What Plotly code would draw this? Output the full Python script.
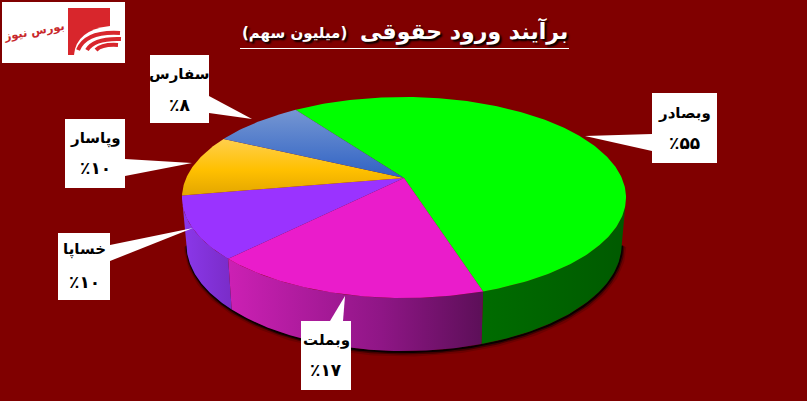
import numpy as np
import plotly.graph_objects as go

# ---- data ----
categories = ["وبصادر", "وبملت", "خساپا", "وپاسار", "سفارس"]
values = [55, 17, 10, 10, 8]
value_labels = ["٪۵۵", "٪۱۷", "٪۱۰", "٪۱۰", "٪۸"]
title_main = "برآیند ورود حقوقی"
title_unit = "(میلیون سهم)"
logo_text = "بورس نیوز"

# ---- styles ----
BG = "#800000"
top_fill = [
    [[0, "#00ff00"], [1, "#00ff00"]],
    [[0, "#ea1ccb"], [1, "#ea1ccb"]],
    [[0, "#9a33ff"], [1, "#9a33ff"]],
    [[0, "#e3a600"], [0.45, "#ffc000"], [1, "#ffcf4d"]],
    [[0, "#2f62c4"], [1, "#7596d2"]],
]
wall_fill = [
    [[0, "#006c00"], [1, "#005a00"]],
    [[0, "#cc20b4"], [0.6, "#8f1686"], [1, "#5c0f58"]],
    [[0, "#8b38ea"], [1, "#7a2cc8"]],
]
# callout boxes: rectangle and pointer triangle
boxes = [
    dict(b=(652, 717, 93, 163), tri=((585, 136), (652, 134), (652, 151)), dy=(20, 50)),
    dict(b=(301, 351, 321, 390), tri=((345, 296), (330, 321), (343, 321)), dy=(19, 49)),
    dict(b=(58, 110, 233, 300), tri=((193, 228), (110, 245), (110, 261)), dy=(16, 49)),
    dict(b=(65, 125, 119, 188), tri=((192, 163), (125, 159), (125, 176)), dy=(19, 49)),
    dict(b=(150, 209, 55, 123), tri=((252, 119), (209, 96), (209, 113)), dy=(19, 50)),
]

# ---- pie geometry: a tilted disc under perspective ----
CX, CY = 404.0, 178.0
A, B, K = 217.8, 96.7, 0.194
START = -35.2
DY, SX, SY, EY = 47.0, 0.98, 1.06, 197.0


def top_xy(deg):
    t = np.radians(deg)
    X, Y = np.sin(t), np.cos(t)
    w = 1 + K * Y
    return CX + A * X / w, CY - B * Y / w


def bottom_xy(deg):
    x, y = top_xy(deg)
    return CX + SX * (x - CX), EY + DY + SY * (y - EY)


total = sum(values)
edges = [START]
for v in values:
    edges.append(edges[-1] + 360.0 * v / total)

EDGE_R = np.degrees(np.arccos(-K))
EDGE_L = 360 - EDGE_R

fig = go.Figure()

# soft shadow under the disc
arc = np.linspace(EDGE_R, EDGE_L, 200)
bx, by = bottom_xy(arc)
for w, op, off in [(7, 0.15, 2.0), (4, 0.4, 1.5), (2, 0.85, 1.0)]:
    fig.add_trace(go.Scatter(x=bx + off * 0.6, y=by + off, mode="lines",
                             line=dict(color="black", width=w), opacity=op,
                             hoverinfo="skip", showlegend=False))

# walls
for i in range(3):
    a0 = max(edges[i], EDGE_R)
    a1 = min(edges[i + 1], EDGE_L)
    th = np.linspace(a0, a1, 80)
    tx, ty = top_xy(th)
    bx, by = bottom_xy(th[::-1])
    fig.add_trace(go.Scatter(
        x=np.r_[tx, bx, tx[0]], y=np.r_[ty, by, ty[0]], mode="lines",
        line=dict(width=0), fill="toself",
        fillgradient=dict(type="horizontal", colorscale=wall_fill[i]),
        hoverinfo="skip", showlegend=False))

# top slices
for i, v in enumerate(values):
    th = np.linspace(edges[i], edges[i + 1], max(int(v * 4), 20))
    tx, ty = top_xy(th)
    fig.add_trace(go.Scatter(
        x=np.r_[CX, tx, CX], y=np.r_[CY, ty, CY], mode="lines",
        line=dict(width=0), fill="toself",
        fillgradient=dict(type="vertical", colorscale=top_fill[i]),
        name=categories[i], hoverinfo="name", showlegend=False))

shapes = []
annotations = []

# callouts
for i, box in enumerate(boxes):
    x0, x1, y0, y1 = box["b"]
    shapes.append(dict(type="rect", x0=x0, x1=x1, y0=y0, y1=y1, fillcolor="white",
                       line=dict(width=0), layer="above"))
    (tx, ty), (ax, ay), (bx2, by2) = box["tri"]
    shapes.append(dict(type="path", path=f"M {tx} {ty} L {ax} {ay} L {bx2} {by2} Z",
                       fillcolor="white", line=dict(width=0), layer="above"))
    xm = (x0 + x1) / 2
    annotations.append(dict(x=xm, y=y0 + box["dy"][0], text=f"<b>{categories[i]}</b>", showarrow=False,
                            font=dict(family="DejaVu Sans", size=15, color="black")))
    annotations.append(dict(x=xm, y=y0 + box["dy"][1], text=f"<b>{value_labels[i]}</b>", showarrow=False,
                            font=dict(family="DejaVu Sans", size=17, color="black")))

# title
shadow = "2px 2px 2px #000000"
annotations.append(dict(x=570, y=31, xanchor="right", text=f"<b>{title_main}</b>", showarrow=False,
                        font=dict(family="DejaVu Sans", size=22, color="white", shadow=shadow)))
annotations.append(dict(x=349, y=33, xanchor="right", text=f"<b>{title_unit}</b>", showarrow=False,
                        font=dict(family="DejaVu Sans", size=15, color="white", shadow=shadow)))
shapes.append(dict(type="line", x0=240, x1=569, y0=48.5, y1=48.5, line=dict(color="white", width=1.2)))

# logo
RED = "#d8262c"
shapes += [
    dict(type="rect", x0=2, x1=125, y0=2, y1=63, fillcolor="white", line=dict(width=0)),
    dict(type="rect", x0=68, x1=110, y0=8, y1=55, fillcolor=RED, line=dict(width=0)),
    dict(type="path", path="M 74 55 Q 76 30 110 26 L 124 32 L 124 55 Z", fillcolor="white", line=dict(width=0)),
    dict(type="path", path="M 78 50 Q 86 31 120 33", line=dict(color=RED, width=4)),
    dict(type="path", path="M 87 50 Q 94 38 121 39", line=dict(color=RED, width=4)),
    dict(type="path", path="M 96 50 Q 102 44 118 45", line=dict(color=RED, width=4)),
]
annotations.append(dict(x=34, y=31, text=f"<b>{logo_text}</b>", showarrow=False, textangle=-10,
                        font=dict(family="DejaVu Sans", size=11.5, color="#c8282c")))

fig.update_layout(
    width=807, height=401, margin=dict(l=0, r=0, t=0, b=0),
    paper_bgcolor=BG, plot_bgcolor=BG, showlegend=False,
    xaxis=dict(range=[0, 807], visible=False, fixedrange=True),
    yaxis=dict(range=[401, 0], visible=False, fixedrange=True),
    shapes=shapes, annotations=annotations,
)
fig.write_html("out.html", config=dict(displayModeBar=False),
               post_script="document.body.style.margin='0';document.body.style.background='#800000';")
